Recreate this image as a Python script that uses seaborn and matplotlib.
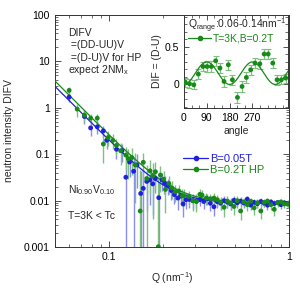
import numpy as np
import pandas as pd
import matplotlib
matplotlib.use("Agg")
import matplotlib.pyplot as plt
import seaborn as sns
from matplotlib.lines import Line2D
from matplotlib.ticker import MultipleLocator, LogLocator, NullFormatter

# main panel data: B=0.05T (blue)
q_blue = [0.060, 0.073, 0.079, 0.086, 0.093, 0.097, 0.110, 0.118, 0.124, 0.130,
          0.137, 0.143, 0.150, 0.155, 0.162, 0.169, 0.175, 0.181, 0.189, 0.197,
          0.204, 0.212, 0.222, 0.231, 0.241, 0.250, 0.258, 0.268, 0.280, 0.293,
          0.306, 0.320, 0.336, 0.350, 0.366, 0.383, 0.400, 0.417, 0.436, 0.455,
          0.474, 0.495, 0.516, 0.539, 0.562, 0.587, 0.613, 0.640, 0.668, 0.698,
          0.728, 0.760, 0.794, 0.829, 0.865, 0.903, 0.942, 0.985]
i_blue = [1.71, 0.65, 0.37, 0.39, 0.32, 0.20, 0.128, 0.119, 0.032, 0.068,
          0.043, 0.059, 0.0143, 0.0184, 0.026, 0.028, 0.023, 0.030, 0.0116, 0.028,
          0.024, 0.021, 0.0165, 0.0135, 0.0114, 0.0125, 0.0085, 0.0105, 0.0106, 0.0100,
          0.0098, 0.0105, 0.0096, 0.0110, 0.0088, 0.0074, 0.0095, 0.0088, 0.0100, 0.0093,
          0.0085, 0.0102, 0.0090, 0.0098, 0.0089, 0.0108, 0.0080, 0.0092, 0.0086, 0.0096,
          0.0088, 0.0080, 0.0094, 0.0087, 0.0091, 0.0082, 0.0090, 0.0086]
e_blue = [0.40, 0.20, 0.12, 0.12, 0.09, 0.07, 0.05, 0.05, 0.10, 0.035,
          0.045, 0.04, 0.03, 0.03, 0.02, 0.02, 0.018, 0.015, 0.014, 0.012,
          0.010, 0.008, 0.006, 0.005, 0.005, 0.004, 0.004, 0.004, 0.0035, 0.0035,
          0.003, 0.003, 0.003, 0.003, 0.0028, 0.0028, 0.0025, 0.0025, 0.0025, 0.0022,
          0.0022, 0.0022, 0.002, 0.002, 0.002, 0.002, 0.0018, 0.0018, 0.0018, 0.0018,
          0.0016, 0.0016, 0.0016, 0.0016, 0.0015, 0.0015, 0.0015, 0.0015]

# main panel data: B=0.2T HP (green)
q_green = [0.060, 0.0665, 0.073, 0.079, 0.086, 0.093, 0.099, 0.105, 0.110, 0.116,
           0.124, 0.128, 0.134, 0.140, 0.149, 0.155, 0.162, 0.169, 0.175, 0.181,
           0.188, 0.193, 0.201, 0.206, 0.215, 0.224, 0.234, 0.244, 0.255, 0.260,
           0.277, 0.293, 0.306, 0.320, 0.329, 0.348, 0.366, 0.383, 0.400, 0.417,
           0.436, 0.455, 0.474, 0.495, 0.516, 0.539, 0.562, 0.587, 0.613, 0.640,
           0.668, 0.698, 0.728, 0.760, 0.794, 0.829, 0.865, 0.903, 0.942, 0.985]
i_green = [2.38, 0.94, 0.70, 0.60, 0.60, 0.166, 0.23, 0.20, 0.155, 0.119,
           0.096, 0.080, 0.085, 0.059, 0.0060, 0.067, 0.030, 0.044, 0.034, 0.042,
           0.00102, 0.0356, 0.029, 0.0175, 0.0236, 0.0187, 0.0156, 0.0162, 0.0128, 0.0128,
           0.0123, 0.0099, 0.0096, 0.0137, 0.0132, 0.0114, 0.0110, 0.0114, 0.0105, 0.0093,
           0.0072, 0.0098, 0.0089, 0.0075, 0.0100, 0.0060, 0.0094, 0.0082, 0.0097, 0.0070,
           0.0090, 0.0060, 0.0092, 0.0098, 0.0082, 0.0065, 0.0090, 0.0094, 0.0085, 0.0084]
e_green = [0.50, 0.30, 0.20, 0.15, 0.15, 0.10, 0.08, 0.07, 0.06, 0.06,
           0.05, 0.05, 0.05, 0.05, 0.04, 0.04, 0.03, 0.03, 0.03, 0.025,
           0.03, 0.02, 0.015, 0.012, 0.010, 0.008, 0.006, 0.006, 0.005, 0.005,
           0.004, 0.004, 0.004, 0.004, 0.0035, 0.0035, 0.003, 0.003, 0.003, 0.003,
           0.0028, 0.0028, 0.0025, 0.0025, 0.0025, 0.0022, 0.0022, 0.0022, 0.002, 0.002,
           0.002, 0.002, 0.0018, 0.0018, 0.0018, 0.0018, 0.0016, 0.0016, 0.0016, 0.0016]

# power law + background fit parameters (A * Q^-n + C)
fit_blue = {"A": 2.45e-5, "n": 3.9, "C": 0.0088}
fit_green = {"A": 3.2e-5, "n": 3.9, "C": 0.0090}

# inset data: angle dependence, T=3K, B=0.2T
angle = [5, 22, 39, 57, 75, 91, 108, 125, 142, 158, 175, 191,
         211, 229, 246, 263, 280, 299, 316, 332, 350, 367, 384, 401]
dif = [0.027, 0.004, -0.01, 0.133, 0.234, 0.234, 0.234, 0.31, 0.213, 0.035, 0.257, 0.057,
       -0.178, -0.032, 0.088, 0.19, 0.28, 0.27, 0.40, 0.40, 0.28, 0.057, 0.057, 0.08]
dif_err = [0.06, 0.06, 0.06, 0.07, 0.06, 0.07, 0.07, 0.07, 0.07, 0.07, 0.07, 0.07,
           0.07, 0.07, 0.07, 0.07, 0.07, 0.07, 0.07, 0.07, 0.07, 0.07, 0.06, 0.06]
# sin^2 fit: a + b * sin^2(angle)
fit_angle = {"a": -0.005, "b": 0.30}

blue = "#1f1fe0"
green = "#178a17"
blue_err = "#8c8cf5"
green_err = "#7ec07e"

sns.set_style("ticks")
plt.rcParams["font.family"] = ["Liberation Sans", "DejaVu Sans"]
plt.rcParams["mathtext.fontset"] = "custom"
plt.rcParams["mathtext.rm"] = "Liberation Sans"
plt.rcParams["mathtext.it"] = "Liberation Sans"

fig = plt.figure(figsize=(3.0, 2.89), dpi=100)
ax = fig.add_axes([0.183, 0.145, 0.78, 0.803])

df_b = pd.DataFrame({"Q": q_blue, "I": i_blue, "err": e_blue})
df_g = pd.DataFrame({"Q": q_green, "I": i_green, "err": e_green})

ax.set_xscale("log")
ax.set_yscale("log")

ax.errorbar(df_b["Q"], df_b["I"], yerr=df_b["err"], fmt="none", ecolor=blue_err, elinewidth=1.0, zorder=2)
ax.errorbar(df_g["Q"], df_g["I"], yerr=df_g["err"], fmt="none", ecolor=green_err, elinewidth=1.0, zorder=2)

qq = np.logspace(np.log10(0.05), 0, 200)
fb = pd.DataFrame({"Q": qq, "I": fit_blue["A"] * qq ** -fit_blue["n"] + fit_blue["C"]})
fg = pd.DataFrame({"Q": qq, "I": fit_green["A"] * qq ** -fit_green["n"] + fit_green["C"]})
sns.lineplot(data=fb, x="Q", y="I", color=blue, lw=0.9, ax=ax, zorder=3)
sns.lineplot(data=fg, x="Q", y="I", color=green, lw=0.9, ax=ax, zorder=3)

sns.scatterplot(data=df_b, x="Q", y="I", color=blue, s=12, edgecolor="none", ax=ax, zorder=4)
sns.scatterplot(data=df_g, x="Q", y="I", color=green, s=12, edgecolor="none", ax=ax, zorder=4)

ax.set_xlim(0.05, 1)
ax.set_ylim(0.001, 100)
ax.set_xticks([0.1, 1])
ax.set_xticklabels(["0.1", "1"])
ax.set_yticks([0.001, 0.01, 0.1, 1, 10, 100])
ax.set_yticklabels(["0.001", "0.01", "0.1", "1", "10", "100"])
ax.xaxis.set_minor_locator(LogLocator(base=10, subs=np.arange(2, 10)))
ax.yaxis.set_minor_locator(LogLocator(base=10, subs=np.arange(2, 10)))
ax.xaxis.set_minor_formatter(NullFormatter())
ax.yaxis.set_minor_formatter(NullFormatter())
ax.tick_params(which="both", direction="in", top=True, right=True, labelsize=7.5, colors="#333333",
               labelcolor="black")
ax.tick_params(which="major", length=4, width=0.6)
ax.tick_params(which="minor", length=2, width=0.5)
for sp in ax.spines.values():
    sp.set_linewidth(0.7)
    sp.set_color("#333333")
ax.set_xlabel("Q (nm$^{-1}$)", fontsize=7.5, labelpad=6)
ax.set_ylabel("neutron intensity DIFV", fontsize=7.5, labelpad=7)

ax.text(0.056, 0.922, "DIFV", transform=ax.transAxes, fontsize=7.5, va="center")
ax.text(0.056, 0.871, " =(DD-UU)V", transform=ax.transAxes, fontsize=7.5, va="center")
ax.text(0.056, 0.815, " =(D-U)V for HP", transform=ax.transAxes, fontsize=7.5, va="center")
ax.text(0.056, 0.763, "expect 2NM$_{\\rm x}$", transform=ax.transAxes, fontsize=7.5, va="center")
ax.text(0.056, 0.246, "Ni$_{0.90}$V$_{0.10}$", transform=ax.transAxes, fontsize=7.5, va="center")
ax.text(0.056, 0.134, "T=3K < Tc", transform=ax.transAxes, fontsize=7.5, va="center")

handles = [Line2D([], [], color=blue, marker="o", ms=3, lw=0.9),
           Line2D([], [], color=green, marker="o", ms=3, lw=0.9)]
leg = ax.legend(handles, ["B=0.05T", "B=0.2T HP"], loc="center left", bbox_to_anchor=(0.53, 0.357),
                frameon=False, fontsize=8, handlelength=2.2, handletextpad=0.2, labelspacing=0.05,
                borderaxespad=0)
for t, c in zip(leg.get_texts(), [blue, green]):
    t.set_color(c)

# inset
ins = fig.add_axes([0.613, 0.626, 0.347, 0.322])
ins.set_facecolor("white")
ins.errorbar(angle, dif, yerr=dif_err, fmt="none", ecolor=green_err, elinewidth=0.9, capsize=2,
             capthick=0.8, zorder=2)
tt = np.linspace(0, 410, 300)
ft = pd.DataFrame({"angle": tt, "dif": fit_angle["a"] + fit_angle["b"] * np.sin(np.radians(tt)) ** 2})
sns.lineplot(data=ft, x="angle", y="dif", color=green, lw=0.9, ax=ins, zorder=3)
sns.scatterplot(x=angle, y=dif, color=green, s=12, edgecolor="none", ax=ins, zorder=4)
ins.set_xlim(0, 410)
ins.set_ylim(-0.32, 0.92)
ins.set_xticks([0, 90, 180, 270])
ins.set_yticks([0, 0.5])
ins.set_yticklabels(["0", "0.5"])
ins.xaxis.set_minor_locator(MultipleLocator(30))
ins.yaxis.set_minor_locator(MultipleLocator(0.1))
ins.tick_params(which="both", direction="in", top=True, right=True, labelsize=7.5, colors="#333333",
                labelcolor="black")
ins.tick_params(which="major", length=3.5, width=0.6)
ins.tick_params(which="minor", length=2, width=0.5)
for sp in ins.spines.values():
    sp.set_linewidth(0.7)
    sp.set_color("#333333")
ins.set_xlabel("angle", fontsize=7.5, labelpad=2)
ins.set_ylabel("DIF = (D-U)", fontsize=7.5, labelpad=2)
ins.text(0.04, 0.885, "Q$_{\\rm range}$:0.06-0.14nm$^{-1}$", transform=ins.transAxes, fontsize=7.5,
         va="center")
ileg = ins.legend([Line2D([], [], color=green, marker="o", ms=3, lw=0.9)], ["T=3K,B=0.2T"],
                  loc="center left", bbox_to_anchor=(0.0, 0.745), frameon=False, fontsize=7.5,
                  handlelength=2.2, handletextpad=0.2, borderaxespad=0)
ileg.get_texts()[0].set_color(green)

fig.savefig("out.png", dpi=100)
